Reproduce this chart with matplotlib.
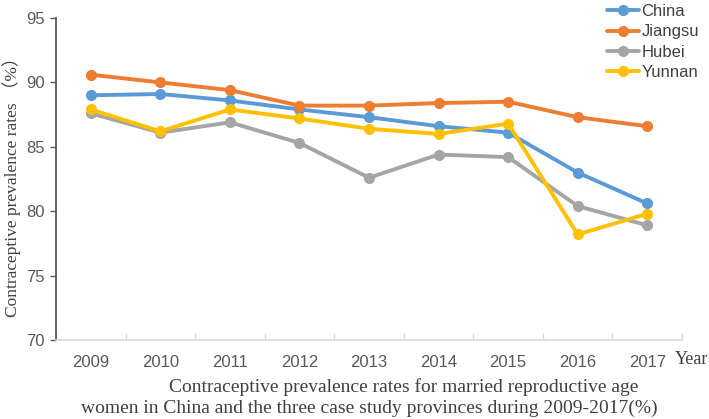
import matplotlib.pyplot as plt
import numpy as np

years = ["2009", "2010", "2011", "2012", "2013", "2014", "2015", "2016", "2017"]
china = [89.0, 89.1, 88.6, 87.9, 87.3, 86.6, 86.1, 83.0, 80.6]
jiangsu = [90.6, 90.0, 89.4, 88.2, 88.2, 88.4, 88.5, 87.3, 86.6]
hubei = [87.6, 86.1, 86.9, 85.3, 82.6, 84.4, 84.2, 80.4, 78.9]
yunnan = [87.9, 86.2, 87.9, 87.2, 86.4, 86.0, 86.8, 78.2, 79.8]

series = [
    ("China", china, "#5B9BD5"),
    ("Jiangsu", jiangsu, "#ED7D31"),
    ("Hubei", hubei, "#A5A5A5"),
    ("Yunnan", yunnan, "#FFC000"),
]

serif = ["Liberation Serif", "Noto Sans CJK SC", "DejaVu Serif"]
sans = "Liberation Sans"
grey = "#595959"
txt = "#404040"

fig = plt.figure(figsize=(7.09, 4.19), dpi=100)
ax = fig.add_axes([0.079, 0.1885, 0.883, 0.7685])

x = np.arange(len(years))
for name, vals, color in series:
    ax.plot(x, vals, color=color, lw=2.8, marker="o", markersize=7,
            label=name, solid_capstyle="round")

ax.set_xlim(-0.5, len(years) - 0.5)
ax.set_ylim(70, 95)
ax.set_yticks([70, 75, 80, 85, 90, 95])
ax.set_xticks(x)
ax.set_xticklabels(years)
ax.set_xticks(np.arange(len(years) + 1) - 0.5, minor=True)

ax.tick_params(axis="x", which="major", length=0, pad=11,
               labelsize=12, labelcolor=grey)
ax.tick_params(axis="x", which="minor", direction="in", length=5,
               color="#D9D9D9", width=1)
ax.tick_params(axis="y", length=4, color=grey, width=1,
               labelsize=12, labelcolor=grey, pad=4)
for lab in ax.get_xticklabels() + ax.get_yticklabels():
    lab.set_fontfamily(sans)

for s in ["top", "right"]:
    ax.spines[s].set_visible(False)
ax.spines["left"].set_color(grey)
ax.spines["left"].set_linewidth(1.3)
ax.spines["bottom"].set_color("#D9D9D9")
ax.spines["bottom"].set_linewidth(1.2)

fig.text(12 / 709, 1 - 183 / 419, "Contraceptive prevalence rates （%）",
         family=serif, fontsize=12.5, color=txt, rotation=90,
         ha="center", va="center")

fig.text(675 / 709, 1 - 359 / 419, "Year", family=serif, fontsize=13,
         color=txt, va="center")
fig.text(404 / 709, 1 - 387 / 419,
         "Contraceptive prevalence rates for married reproductive age",
         family=serif, fontsize=14, color=txt, ha="center", va="center")
fig.text(369 / 709, 1 - 408 / 419,
         "women in China and the three case study provinces during 2009-2017(%)",
         family=serif, fontsize=14, color=txt, ha="center", va="center")

leg = fig.legend(loc="upper right", bbox_to_anchor=(1.0, 1.014), frameon=False,
                 prop={"family": sans, "size": 12}, handlelength=1.9,
                 handletextpad=0.15, labelspacing=0.32, borderaxespad=0.2)
for t in leg.get_texts():
    t.set_color(txt)

fig.savefig("out.png", dpi=100)
